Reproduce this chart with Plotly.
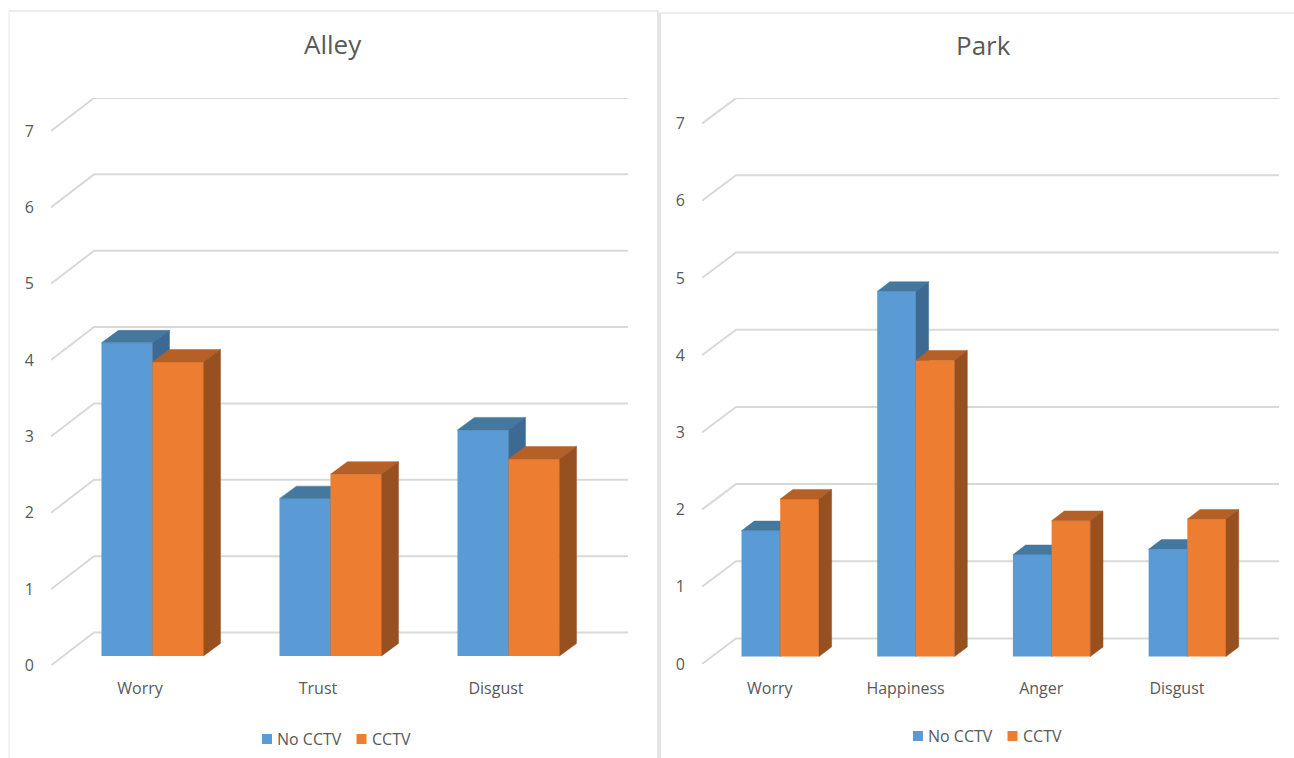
import plotly.graph_objects as go

# Mean ratings per emotion, with and without CCTV
alley_categories = ["Worry", "Trust", "Disgust"]
alley_no_cctv = [4.10, 2.06, 2.96]
alley_cctv = [3.85, 2.38, 2.58]

park_categories = ["Worry", "Happiness", "Anger", "Disgust"]
park_no_cctv = [1.63, 4.73, 1.32, 1.39]
park_cctv = [2.04, 3.84, 1.76, 1.78]

value_ticks = [0, 1, 2, 3, 4, 5, 6, 7]
series_names = ["No CCTV", "CCTV"]

WIDTH, HEIGHT = 1294, 758
FONT = "Open Sans"
TEXT = "#595959"
GRID = "#D9D9D9"
# front, top and side shades of each series
BLUE = ("#5B9BD5", "#44789F", "#3C6A93")
ORANGE = ("#ED7D31", "#B56026", "#975020")


def px_x(p):
    return p / WIDTH


def px_y(p):
    return 1 - p / HEIGHT


fig = go.Figure()
layout = {}
axis_count = 0


def add_axes(left, right, top, bottom, xrange, yrange, visible_ticks=None):
    """Create one x/y pair over a pixel box and return the trace references."""
    global axis_count
    axis_count += 1
    n = "" if axis_count == 1 else str(axis_count)
    xaxis = dict(
        domain=[px_x(left), px_x(right)], range=xrange, anchor=f"y{n}", automargin=False,
        showgrid=False, zeroline=False, showline=False, fixedrange=True,
    )
    yaxis = dict(
        domain=[px_y(bottom), px_y(top)], range=yrange, anchor=f"x{n}", automargin=False,
        showgrid=False, zeroline=False, showline=False, fixedrange=True,
    )
    if visible_ticks:
        font = dict(family=FONT, size=16, color=TEXT)
        xaxis.update(
            tickmode="array", tickvals=visible_ticks["x"], ticktext=visible_ticks["labels"],
            ticks="outside", ticklen=visible_ticks["standoff"], tickcolor="rgba(0,0,0,0)",
            tickfont=font,
        )
        yaxis.update(
            tickmode="array", tickvals=value_ticks, ticktext=[str(v) for v in value_ticks],
            ticks="outside", ticklen=13, tickcolor="rgba(0,0,0,0)", tickfont=font,
        )
    else:
        xaxis.update(showticklabels=False, ticks="")
        yaxis.update(showticklabels=False, ticks="")
    layout[f"xaxis{n}"] = xaxis
    layout[f"yaxis{n}"] = yaxis
    return f"x{n}", f"y{n}"


def add_series(xref, yref, name, centers, values, colors, width, depth_x, depth_y, start):
    """Front faces as bars, with top and side faces as filled polygons."""
    base = start * depth_y
    fig.add_trace(go.Bar(
        x=centers, y=values, base=base, width=width, name=name,
        marker=dict(color=colors[0], line=dict(width=0)),
        xaxis=xref, yaxis=yref, showlegend=False,
    ))
    for c, v in zip(centers, values):
        x0, x1 = c - width / 2, c + width / 2
        y1 = base + v
        top_x = [x0, x1, x1 + depth_x, x0 + depth_x, x0]
        top_y = [y1, y1, y1 + depth_y, y1 + depth_y, y1]
        side_x = [x1, x1 + depth_x, x1 + depth_x, x1, x1]
        side_y = [base, base + depth_y, y1 + depth_y, y1, base]
        for xs, ys, color in ((top_x, top_y, colors[1]), (side_x, side_y, colors[2])):
            fig.add_trace(go.Scatter(
                x=xs, y=ys, mode="lines", fill="toself", fillcolor=color,
                line=dict(width=0.5, color=color), xaxis=xref, yaxis=yref,
                showlegend=False, hoverinfo="skip",
            ))


def add_panel(title, title_xy, categories, no_cctv, cctv, left, right, top, bottom,
              pitch, unit, wall_dx, wall_dy, bar_width, bar_dx, bar_dy, bar_nudge,
              label_standoff, legend_left, legend_y):
    xrange = [0, (right - left) / pitch]
    yrange = [0, (bottom - top) / unit]
    wall_x, wall_y = wall_dx / pitch, wall_dy / unit
    depth_x, depth_y = bar_dx / pitch, bar_dy / unit
    width = bar_width / pitch
    start = 0.29
    mids = [i + 0.5 for i in range(len(categories))]

    # Walls: slanted floor lines and horizontal lines on the back plane
    xref, yref = add_axes(left, right, top, bottom, xrange, yrange,
                          dict(x=mids, labels=categories, standoff=label_standoff))
    for v in value_ticks:
        fig.add_trace(go.Scatter(
            x=[0, wall_x, xrange[1]], y=[v, v + wall_y, v + wall_y], mode="lines",
            line=dict(color=GRID, width=2), xaxis=xref, yaxis=yref,
            showlegend=False, hoverinfo="skip", cliponaxis=False,
        ))

    # One stacked subplot per series keeps the nearer faces over the neighbouring side
    shift = start * wall_x + bar_nudge / pitch
    for name, values, colors, sign in ((series_names[0], no_cctv, BLUE, -1),
                                       (series_names[1], cctv, ORANGE, 1)):
        xr, yr = add_axes(left, right, top, bottom, xrange, yrange)
        centers = [m + shift + sign * width / 2 for m in mids]
        add_series(xr, yr, name, centers, values, colors, width, depth_x,
                   depth_y, start * wall_y / depth_y)

    annotations.append(dict(
        text=title, x=px_x(title_xy[0]), y=px_y(title_xy[1]), xref="paper", yref="paper",
        showarrow=False, xanchor="center", yanchor="middle",
        font=dict(family=FONT, size=26, color=TEXT),
    ))

    # Legend keys and labels
    pos = legend_left
    for name, colors, label_width in ((series_names[0], BLUE, 64), (series_names[1], ORANGE, 40)):
        shapes.append(dict(
            type="rect", xref="paper", yref="paper", line=dict(width=0),
            x0=px_x(pos), x1=px_x(pos + 10), y0=px_y(legend_y + 5), y1=px_y(legend_y - 5),
            fillcolor=colors[0],
        ))
        annotations.append(dict(
            text=name, x=px_x(pos + 15), y=px_y(legend_y), xref="paper", yref="paper",
            showarrow=False, xanchor="left", yanchor="middle", xshift=-2,
            font=dict(family=FONT, size=16, color=TEXT),
        ))
        pos += 15 + label_width + 15.5


annotations = []
shapes = []

add_panel("Alley", (333, 44), alley_categories, alley_no_cctv, alley_cctv,
          left=51, right=628, top=98, bottom=665.5, pitch=178, unit=76.36,
          wall_dx=43, wall_dy=33, bar_width=51, bar_dx=17, bar_dy=12.5, bar_nudge=0,
          label_standoff=8, legend_left=262, legend_y=739)
add_panel("Park", (983, 45), park_categories, park_no_cctv, park_cctv,
          left=702, right=1279, top=98, bottom=664, pitch=135.7, unit=77.2,
          wall_dx=34, wall_dy=25.5, bar_width=38.7, bar_dx=12.7, bar_dy=9.7, bar_nudge=0.5,
          label_standoff=10, legend_left=913, legend_y=736)

# Chart frames
frame_lines = [
    (9, 11, 9, 758, "#EDEDED"),
    (9, 11, 658, 11, "#DADADA"),
    (658, 11, 658, 758, "#D4D4D4"),
    (660, 13, 660, 758, "#D4D4D4"),
    (660, 13, 1294, 13, "#DADADA"),
]
for x0, y0, x1, y1, color in frame_lines:
    shapes.append(dict(
        type="line", xref="paper", yref="paper", layer="below",
        x0=px_x(x0), x1=px_x(x1), y0=px_y(y0), y1=px_y(y1),
        line=dict(color=color, width=1.2),
    ))

fig.update_layout(
    width=WIDTH, height=HEIGHT, autosize=False, margin=dict(l=0, r=0, t=0, b=0, pad=0),
    paper_bgcolor="white", plot_bgcolor="rgba(0,0,0,0)", barmode="overlay",
    showlegend=False, annotations=annotations, shapes=shapes, **layout,
)
fig.write_html("out.html", config=dict(displayModeBar=False, responsive=False),
               default_width=WIDTH, default_height=HEIGHT)
